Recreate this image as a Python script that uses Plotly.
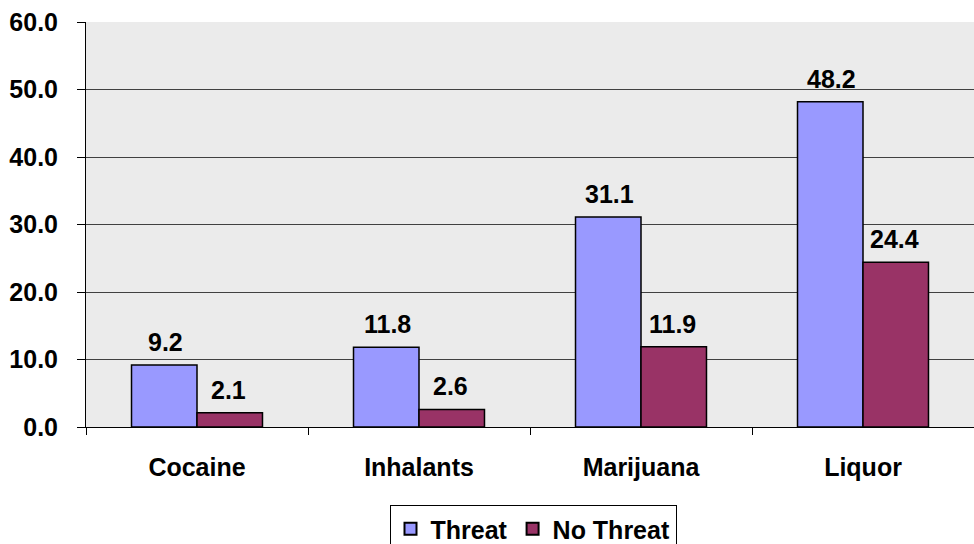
import plotly.graph_objects as go

categories = ["Cocaine", "Inhalants", "Marijuana", "Liquor"]
threat = [9.2, 11.8, 31.1, 48.2]
no_threat = [2.1, 2.6, 11.9, 24.4]
y_ticks = [0, 10, 20, 30, 40, 50, 60]

FONT = "Arial, Liberation Sans, sans-serif"
FS = 25

fig = go.Figure()
fig.add_trace(go.Bar(name="Threat", x=categories, y=threat,
                     marker=dict(color="#9999FF", line=dict(color="#000000", width=1.5))))
fig.add_trace(go.Bar(name="No Threat", x=categories, y=no_threat,
                     marker=dict(color="#993366", line=dict(color="#000000", width=1.5))))

annotations = []
for cat, v in zip(categories, threat):
    annotations.append(dict(x=cat, y=v, xref="x", yref="y", text=f"{v:.1f}", showarrow=False,
                            xshift=-32, yanchor="bottom", yshift=7,
                            font=dict(family=FONT, size=FS, color="#000000", weight="bold")))
for cat, v in zip(categories, no_threat):
    annotations.append(dict(x=cat, y=v, xref="x", yref="y", text=f"{v:.1f}", showarrow=False,
                            xshift=31, yanchor="bottom", yshift=7,
                            font=dict(family=FONT, size=FS, color="#000000", weight="bold")))

fig.update_layout(
    width=974, height=544,
    margin=dict(l=86, r=0, t=22, b=117),
    paper_bgcolor="#ffffff",
    plot_bgcolor="#ebebeb",
    barmode="group",
    bargap=0.41,
    bargroupgap=0,
    font=dict(family=FONT, size=FS, color="#000000"),
    showlegend=True,
    legend=dict(orientation="h", x=533 / 974, xref="container", xanchor="center",
                y=1 - 505 / 544, yref="container", yanchor="top",
                bordercolor="#000000", borderwidth=1, bgcolor="#ffffff",
                font=dict(family=FONT, size=25, color="#000000", weight="bold"),
                itemsizing="constant", traceorder="normal", itemwidth=30),
    annotations=annotations,
)
fig.update_xaxes(showline=True, linecolor="#000000", linewidth=1, automargin=False,
                 ticks="outside", tickson="boundaries", ticklen=7, tickcolor="#000000",
                 tickfont=dict(family=FONT, size=FS, color="#000000", weight="bold"),
                 ticklabelstandoff=18, showgrid=False)
fig.update_yaxes(range=[0, 60], tickvals=y_ticks, tickformat=".1f", automargin=False,
                 showline=True, linecolor="#000000", linewidth=1,
                 ticks="outside", ticklen=8, tickcolor="#000000",
                 ticklabelstandoff=14,
                 showgrid=True, gridcolor="#404040", gridwidth=1, zeroline=False,
                 tickfont=dict(family=FONT, size=FS, color="#000000", weight="bold"))

fig.write_html("out.html", config={"displayModeBar": False},
               post_script="document.body.style.margin='0';document.body.style.overflow='hidden';")
